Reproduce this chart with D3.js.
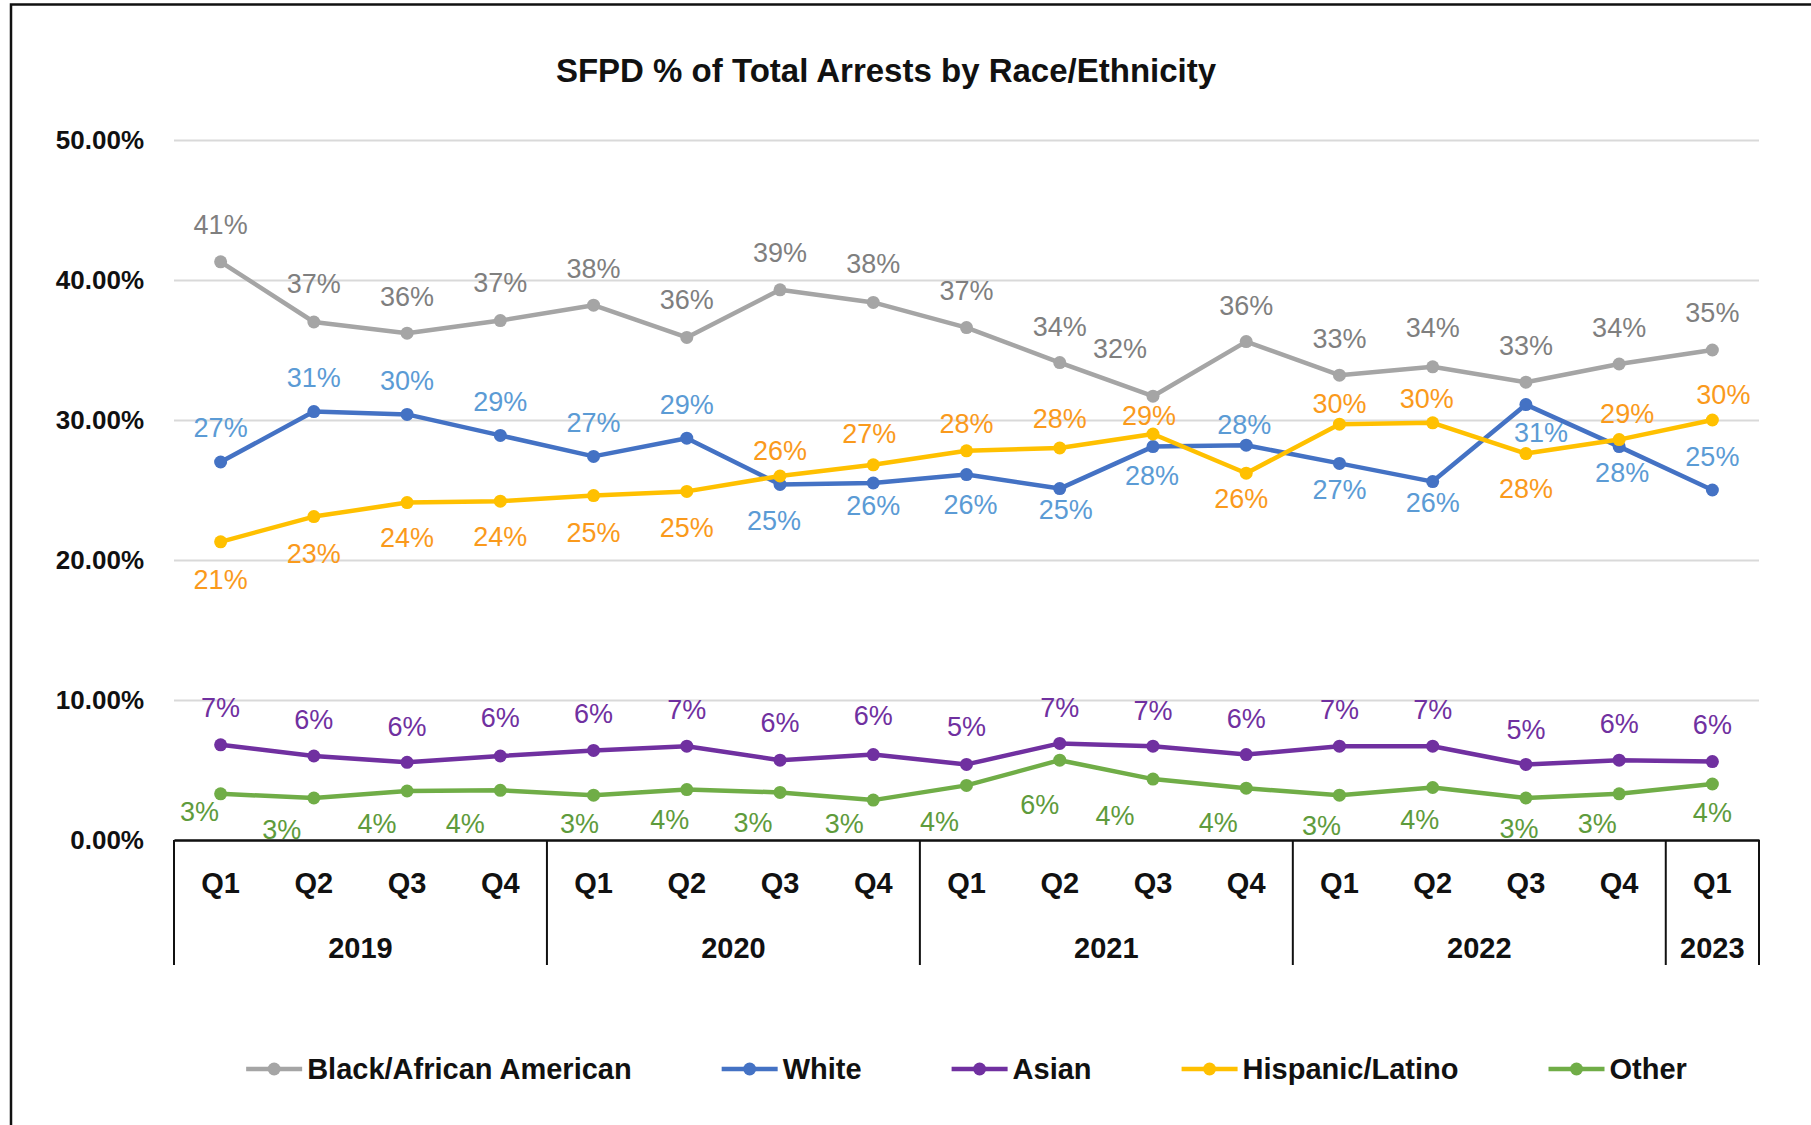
<!DOCTYPE html>
<html>
<head>
<meta charset="utf-8">
<script src="https://cdn.jsdelivr.net/npm/d3@7"></script>
<style>
  body { margin: 0; background: #fff; }
  svg { display: block; font-family: 'Liberation Sans', Arial, sans-serif; }
</style>
</head>
<body>
<div id="chart"></div>
<script>
// --- data ---
const quarters = ['Q1', 'Q2', 'Q3', 'Q4', 'Q1', 'Q2', 'Q3', 'Q4', 'Q1', 'Q2', 'Q3', 'Q4', 'Q1', 'Q2', 'Q3', 'Q4', 'Q1'];
const periodYears = ['2019', '2019', '2019', '2019', '2020', '2020', '2020', '2020', '2021', '2021', '2021', '2021', '2022', '2022', '2022', '2022', '2023'];
const years = ['2019', '2020', '2021', '2022', '2023'];
const yTicks = [0, 10, 20, 30, 40, 50];

const seriesNames = ['Black/African American', 'White', 'Asian', 'Hispanic/Latino', 'Other'];
const blackValues = [41.3, 37.0, 36.2, 37.1, 38.2, 35.9, 39.3, 38.4, 36.6, 34.1, 31.7, 35.6, 33.2, 33.8, 32.7, 34.0, 35.0];
const whiteValues = [27.0, 30.6, 30.4, 28.9, 27.4, 28.7, 25.4, 25.5, 26.1, 25.1, 28.1, 28.2, 26.9, 25.6, 31.1, 28.1, 25.0];
const asianValues = [6.8, 6.0, 5.55, 6.0, 6.4, 6.7, 5.7, 6.1, 5.4, 6.9, 6.7, 6.1, 6.7, 6.7, 5.4, 5.7, 5.6];
const hispanicValues = [21.3, 23.1, 24.1, 24.2, 24.6, 24.9, 26.0, 26.8, 27.8, 28.0, 29.0, 26.2, 29.7, 29.8, 27.6, 28.6, 30.0];
const otherValues = [3.3, 3.0, 3.5, 3.55, 3.2, 3.6, 3.4, 2.85, 3.9, 5.7, 4.35, 3.7, 3.2, 3.75, 3.0, 3.3, 4.0];

// --- layout / style ---
const W = 1811, H = 1125;
const plot = { left: 174, right: 1759, top: 140, bottom: 840 };

const styles = {
  'Black/African American': { line: '#a5a5a5', label: '#7f7f7f' },
  'White': { line: '#4472c4', label: '#5b9bd5' },
  'Asian': { line: '#7030a0', label: '#7030a0' },
  'Hispanic/Latino': { line: '#ffc000', label: '#fa9a1c' },
  'Other': { line: '#70ad47', label: '#5e9b3c' },
};

// hand-placed data label offsets [dx, dy] (label centre relative to point), as in the source chart
const labelOffsets = {
  'Black/African American': [[0, -38], [0, -39], [0, -37], [0, -38], [0, -37], [0, -38], [0, -38], [0, -39], [0, -37], [0, -36], [-33, -48], [0, -36], [0, -37], [0, -40], [0, -37], [0, -37], [0, -38]],
  'White': [[0, -35], [0, -34], [0, -34], [0, -34], [0, -34], [0, -34], [-6, 36], [0, 22], [4, 30], [6, 21], [-1, 29], [-2, -21], [0, 26], [0, 21], [15, 28], [3, 26], [0, -34]],
  'Asian': [[0, -38], [0, -37], [0, -36], [0, -39], [0, -37], [0, -37], [0, -38], [0, -39], [0, -38], [0, -36], [0, -36], [0, -36], [0, -37], [0, -37], [0, -35], [0, -37], [0, -37]],
  'Hispanic/Latino': [[0, 37], [0, 37], [0, 35], [0, 35], [0, 37], [0, 36], [0, -26], [-4, -32], [0, -28], [0, -30], [-4, -19], [-5, 25], [0, -21], [-6, -25], [0, 35], [8, -26], [11, -26]],
  'Other': [[-21, 17], [-32, 31], [-30, 32], [-35, 33], [-14, 28], [-17, 30], [-27, 30], [-29, 23], [-27, 36], [-20, 44], [-38, 36], [-28, 34], [-18, 30], [-13, 32], [-7, 30], [-22, 29], [0, 28]],
};

const series = [blackValues, whiteValues, asianValues, hispanicValues, otherValues]
  .map((values, i) => ({ name: seriesNames[i], values }));

const periodKeys = quarters.map((q, i) => `${periodYears[i]} ${q}`);

const x = d3.scaleBand().domain(periodKeys).range([plot.left, plot.right]).padding(0);
const cx = i => x(periodKeys[i]) + x.bandwidth() / 2;
const y = d3.scaleLinear().domain([0, 50]).range([plot.bottom, plot.top]);

const svg = d3.select('#chart').append('svg')
  .attr('width', W).attr('height', H)
  .attr('viewBox', `0 0 ${W} ${H}`);

svg.append('rect').attr('width', W).attr('height', H).attr('fill', '#fff');

// outer frame (top + left edges visible)
svg.append('path')
  .attr('d', `M11,${H} V4.5 H${W}`)
  .attr('fill', 'none').attr('stroke', '#111').attr('stroke-width', 2.5);

// title
svg.append('text')
  .attr('x', 886).attr('y', 82)
  .attr('text-anchor', 'middle')
  .attr('font-size', 33).attr('font-weight', 'bold').attr('fill', '#111')
  .text('SFPD % of Total Arrests by Race/Ethnicity');

// gridlines
svg.append('g')
  .attr('transform', `translate(${plot.left},0)`)
  .call(d3.axisLeft(y).tickValues(yTicks).tickSize(-(plot.right - plot.left)).tickFormat(''))
  .call(a => a.select('.domain').remove())
  .call(a => a.selectAll('.tick line').attr('stroke', '#d9d9d9').attr('stroke-width', 2));

// y axis labels
svg.append('g')
  .attr('transform', `translate(${plot.left},0)`)
  .call(d3.axisLeft(y).tickValues(yTicks).tickSize(0).tickPadding(30).tickFormat(d => d3.format('.2f')(d) + '%'))
  .call(a => a.select('.domain').remove())
  .call(a => a.selectAll('text')
    .attr('font-family', "'Liberation Sans', Arial, sans-serif")
    .attr('font-size', 26).attr('font-weight', 'bold').attr('fill', '#111'));

// x axis (quarters)
svg.append('g')
  .attr('transform', `translate(0,${plot.bottom})`)
  .call(d3.axisBottom(x).tickSize(0).tickSizeOuter(0).tickPadding(32).tickFormat((d, i) => quarters[i]))
  .call(a => a.select('.domain').attr('stroke', '#111').attr('stroke-width', 2.5))
  .call(a => a.selectAll('text')
    .attr('font-family', "'Liberation Sans', Arial, sans-serif")
    .attr('font-size', 29).attr('font-weight', 'bold').attr('fill', '#111'));

// year groups
const yearSpans = years.map(yr => {
  const idx = d3.range(periodKeys.length).filter(i => periodYears[i] === yr);
  const x0 = x(periodKeys[idx[0]]);
  const x1 = x(periodKeys[idx[idx.length - 1]]) + x.bandwidth();
  return { yr, x0, x1 };
});
const sepX = [...yearSpans.map(s => s.x0), plot.right];

svg.append('g').selectAll('line')
  .data(sepX)
  .join('line')
  .attr('x1', d => d).attr('x2', d => d)
  .attr('y1', plot.bottom).attr('y2', 965)
  .attr('stroke', '#111').attr('stroke-width', 2);

svg.append('g').selectAll('text')
  .data(yearSpans)
  .join('text')
  .attr('x', d => (d.x0 + d.x1) / 2)
  .attr('y', 958)
  .attr('text-anchor', 'middle')
  .attr('font-size', 29).attr('font-weight', 'bold').attr('fill', '#111')
  .text(d => d.yr);

// lines + markers
const line = d3.line().x((d, i) => cx(i)).y(d => y(d));

const sg = svg.append('g').selectAll('g')
  .data(series)
  .join('g');

sg.append('path')
  .attr('d', d => line(d.values))
  .attr('fill', 'none')
  .attr('stroke', d => styles[d.name].line)
  .attr('stroke-width', 4.5)
  .attr('stroke-linejoin', 'round');

sg.selectAll('circle')
  .data(d => d.values.map((v, i) => ({ v, i, name: d.name })))
  .join('circle')
  .attr('cx', d => cx(d.i))
  .attr('cy', d => y(d.v))
  .attr('r', 6.5)
  .attr('fill', d => styles[d.name].line);

// data labels
svg.append('g').selectAll('g')
  .data(series)
  .join('g')
  .attr('fill', d => styles[d.name].label)
  .selectAll('text')
  .data(d => d.values.map((v, i) => ({ v, i, name: d.name })))
  .join('text')
  .attr('x', d => cx(d.i) + labelOffsets[d.name][d.i][0])
  .attr('y', d => y(d.v) + labelOffsets[d.name][d.i][1])
  .attr('dy', '0.36em')
  .attr('text-anchor', 'middle')
  .attr('font-size', 27)
  .text(d => Math.round(d.v) + '%');

// legend
const legend = svg.append('g').attr('transform', 'translate(0,1069)');
const items = legend.selectAll('g')
  .data(seriesNames)
  .join('g');

items.append('line')
  .attr('x1', 0).attr('x2', 56)
  .attr('stroke', d => styles[d].line).attr('stroke-width', 4.5);
items.append('circle')
  .attr('cx', 28).attr('r', 6.5)
  .attr('fill', d => styles[d].line);
items.append('text')
  .attr('x', 61).attr('dy', '0.36em')
  .attr('font-size', 29).attr('font-weight', 'bold').attr('fill', '#111')
  .text(d => d);

const widths = [];
items.each(function () { widths.push(61 + d3.select(this).select('text').node().getComputedTextLength()); });
const gap = 90;
const total = d3.sum(widths) + gap * (widths.length - 1);
let cursor = (plot.left + plot.right) / 2 - total / 2;
items.attr('transform', (d, i) => {
  const t = `translate(${cursor},0)`;
  cursor += widths[i] + gap;
  return t;
});
</script>
</body>
</html>
